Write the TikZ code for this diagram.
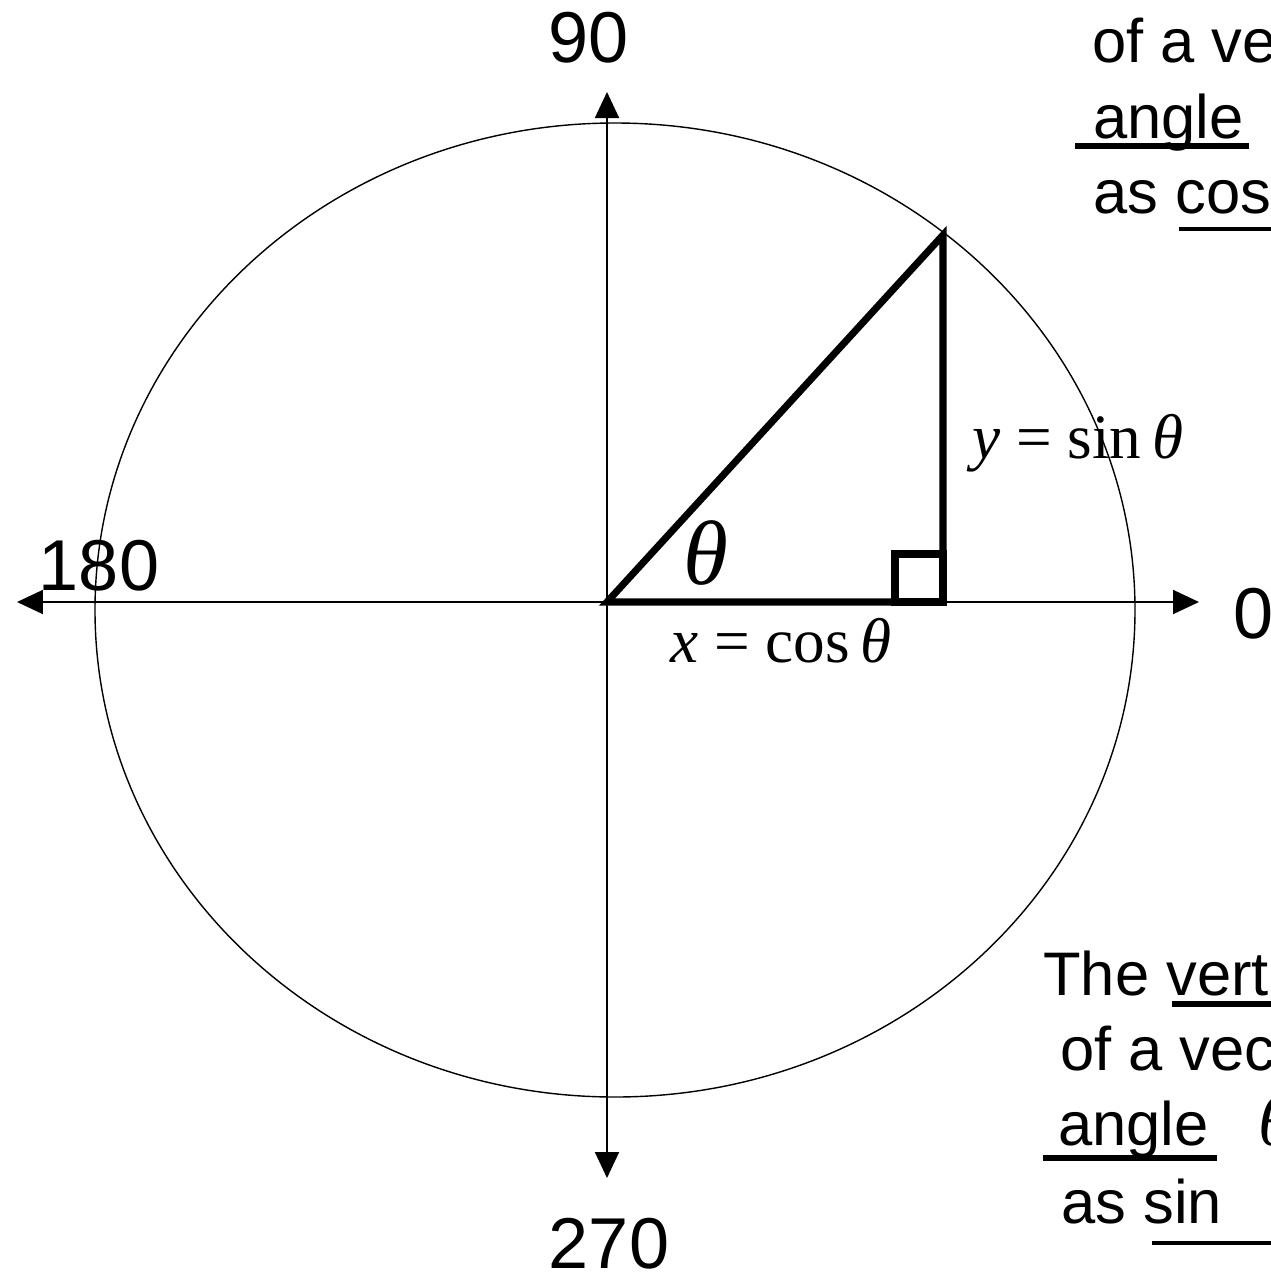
\documentclass[tikz,border=0pt]{standalone}
\usepackage{fontspec}
\setmainfont{Liberation Sans}
\newfontfamily\timesfont{Liberation Serif}
\usetikzlibrary{arrows.meta}

\begin{document}
\begin{tikzpicture}[x=0.02cm, y=-0.02cm,
    >={Triangle[length=0.52cm, width=0.48cm]},
    axis/.style={line width=1.1pt},
    leg/.style={line width=4pt, line join=miter},
    degree/.style={font=\fontsize{41}{41}\selectfont, anchor=base, inner sep=0pt},
    note/.style={font=\fontsize{35}{35}\selectfont, anchor=base west, inner sep=0pt},
    eqn/.style={font=\timesfont\fontsize{36}{36}\selectfont, anchor=base west, inner sep=0pt},
    uline/.style={line width=2.2pt},
  ]
  \clip (0,0) rectangle (1271,1279);

  \coordinate (O) at (607,602);
  \coordinate (E) at (1199,602);
  \coordinate (W) at (17,602);
  \coordinate (N) at (607,92);
  \coordinate (S) at (607,1178);
  \coordinate (P) at (943,235);
  \coordinate (F) at (943,602);

  % axes and unit circle
  \draw[axis, <->] (W) -- (E);
  \draw[axis, <->] (S) -- (N);
  \draw[line width=0.8pt] (615,610) ellipse [x radius=520, y radius=487];

  % triangle with right-angle mark
  \draw[leg] (O) -- (F) -- (P) -- cycle;
  \draw[leg] (F) rectangle (895,554);

  \node[degree] (d90) at (589,62) {90};
  \node[degree] (d180) at (99,590) {180};
  \node[degree, anchor=base west] (d0) at (1233,638) {0};
  \node[degree] (d270) at (609,1268) {270};

  \node[font=\timesfont\itshape\fontsize{52}{52}\selectfont, anchor=base, inner sep=0pt]
    (theta) at (706,584) {θ};
  \node[eqn] (xeq) at (670,662) {\textit{x} = cos\,\textit{θ}};
  \node[eqn] (yeq) at (972,458) {\textit{y} = sin\,\textit{θ}};

  % notes cut by the right edge
  \node[note] (h1) at (1092,62) {of a vector};
  \node[note] (h2) at (1093,138) {angle};
  \node[note] (h3) at (1093,213) {as cos};
  \draw[uline, line width=3pt] (1075,146) -- (1249,146);
  \draw[uline] (1179,229) -- (1280,229);

  \node[note] (v1) at (1043,995) {The vertical};
  \node[note] (v2) at (1060,1070) {of a vector};
  \node[note] (v3) at (1058,1145) {angle};
  \node[font=\timesfont\itshape\fontsize{40}{40}\selectfont, anchor=base west, inner sep=0pt]
    (v3t) at (1258,1145) {θ};
  \node[note] (v4) at (1061,1223) {as sin};
  \draw[uline, line width=3pt] (1172,1004) -- (1280,1004);
  \draw[uline, line width=3pt] (1043,1158) -- (1217,1158);
  \draw[uline] (1152,1243) -- (1280,1243);
\end{tikzpicture}
\end{document}
